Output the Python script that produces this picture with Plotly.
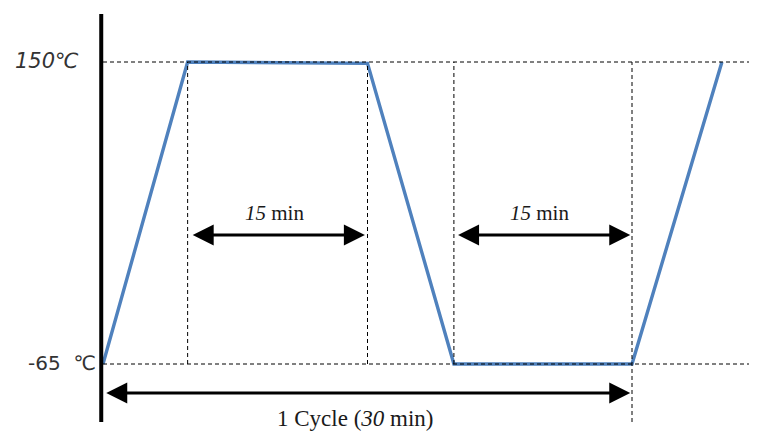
import plotly.graph_objects as go

# Schematic data (time in minutes, temperature in °C)
times = [0.0, 4.8, 15.0, 19.9, 30.0, 35.1]
temps = [-65, 150, 149, -65, -65, 150]
t_high, t_low = 150, -65
dwell_marks = [4.8, 15.0, 19.9, 30.0]
dwell_labels = ["15 min", "15 min"]
cycle_label = "1 Cycle (<i>30</i> min)"

OFF = 8  # page body margin
W, H = 757 - OFF, 435 - OFF
px_per_min = (632 - 103) / 30.0
px_per_deg = (364 - 62) / 215.0
x0_px, y_hi_px = 103 - OFF, 62 - OFF

x_range = [-x0_px / px_per_min, (W - x0_px) / px_per_min]
y_range = [t_high - (H - y_hi_px) / px_per_deg, t_high + y_hi_px / px_per_deg]


def ty(py):
    return t_high - (py - 62) / px_per_deg


fig = go.Figure()
fig.add_trace(go.Scatter(x=times, y=temps, mode="lines",
                         line=dict(color="#4f81bd", width=3.4), hoverinfo="skip"))

dash = dict(color="black", width=1, dash="4px,3px")
fig.add_shape(type="line", x0=0, x1=x_range[1], y0=t_high, y1=t_high, line=dash)
fig.add_shape(type="line", x0=0, x1=x_range[1], y0=t_low, y1=t_low, line=dash)
for i, t in enumerate(dwell_marks):
    ybot = t_low if i < 3 else ty(422)
    ytop = t_high if i != 1 else temps[2]
    fig.add_shape(type="line", x0=t, x1=t, y0=ybot, y1=ytop, line=dash)

# vertical axis line
fig.add_shape(type="line", x0=-0.1, x1=-0.1, y0=ty(14), y1=ty(422),
              line=dict(color="black", width=4))

arrow_y = ty(235)
cyc_y = ty(393)
arrows = [(dwell_marks[0] + 0.2, dwell_marks[1] - 0.15, arrow_y),
          (dwell_marks[2] + 0.15, dwell_marks[3] - 0.1, arrow_y),
          (0.1, dwell_marks[3] - 0.1, cyc_y)]
for xs, xe, yy in arrows:
    fig.add_annotation(x=xe, y=yy, ax=xs, ay=yy, xref="x", yref="y", axref="x", ayref="y",
                       text="", showarrow=True, arrowhead=2, arrowside="end+start",
                       arrowsize=1.5, arrowwidth=2.8, arrowcolor="black")

font = dict(family="Liberation Serif", size=21, color="#1a1a1a")
for (a, b), lab in zip([(dwell_marks[0], dwell_marks[1]), (dwell_marks[2], dwell_marks[3])], dwell_labels):
    num, unit = lab.split(" ")
    fig.add_annotation(x=(a + b) / 2 - 0.2, y=ty(213),
                       text=f"<i>{num}</i>\u00a0{unit}", showarrow=False, font=font)
fig.add_annotation(x=15.0 - 0.7, y=ty(418),
                   text=cycle_label.replace(" ", "\u00a0"), showarrow=False,
                   font=dict(family="Liberation Serif", size=23, color="#1a1a1a"))

fig.add_annotation(x=-1.25, y=t_high + 1, text="<i>150℃</i>", showarrow=False, xanchor="right",
                   font=dict(family="DejaVu Sans", size=21, color="#333"))
fig.add_annotation(x=-0.3, y=t_low + 1, text="-65\u00a0\u00a0℃", showarrow=False, xanchor="right",
                   font=dict(family="DejaVu Sans", size=20, color="#333"))

fig.update_layout(width=W, height=H, margin=dict(l=0, r=0, t=0, b=0),
                  paper_bgcolor="white", plot_bgcolor="white", showlegend=False,
                  xaxis=dict(range=x_range, visible=False, fixedrange=True),
                  yaxis=dict(range=y_range, visible=False, fixedrange=True))
fig.write_html("out.html")
